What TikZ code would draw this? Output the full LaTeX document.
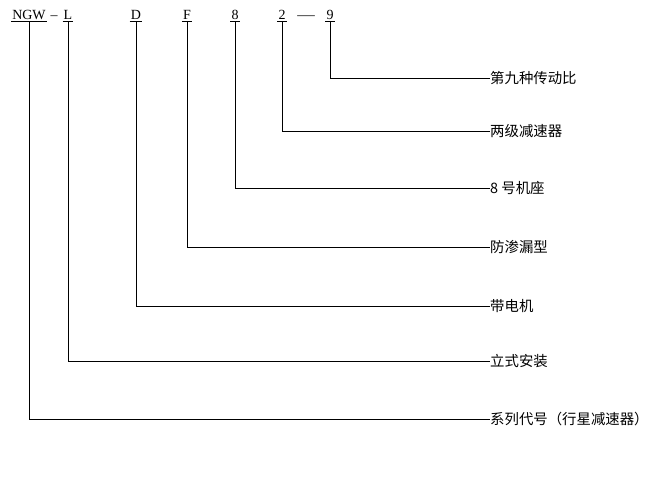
\documentclass[tikz,border=0pt]{standalone}
\usepackage{fontspec}
\setmainfont{Liberation Serif}
\newfontfamily\cjk{Noto Sans CJK SC}
\tikzset{code/.style={inner xsep=1pt,inner ysep=2pt,anchor=base,font=\fontsize{14}{14}\selectfont},
	sep/.style={inner sep=0pt,anchor=base,font=\fontsize{14}{14}\selectfont},
	desc/.style={inner sep=0pt,anchor=west,font=\cjk\fontsize{14.4}{14.4}\selectfont},
	link/.style={draw=black,line width=0.8pt}}

\begin{document}
\begin{tikzpicture}[x=1pt,y=-1pt]
		\useasboundingbox (0,0) rectangle (650,477);
			\node[code] (NGW) at (29,19) {NGW};
			\node[sep] (s1) at (54,19) {--};
			\node[code] (L) at (68,19) {L};
			\node[code] (D) at (136,19) {D};
			\node[code] (F) at (187,19) {F};
			\node[code] (N8) at (235,19) {8};
			\node[code] (N2) at (282,19) {2};
			\node[sep,xscale=1.25] (s2) at (306,19) {---};
			\node[code] (N9) at (330,19) {9};

			\node[desc] (t9) at (490,78) {第九种传动比};
			\node[desc] (t2) at (490,131) {两级减速器};
			\node[desc] (t8) at (490,188) {8 号机座};
			\node[desc] (tF) at (490,247) {防渗漏型};
			\node[desc] (tD) at (490,306) {带电机};
			\node[desc] (tL) at (490,361) {立式安装};
			\node[desc] (tNGW) at (490,419) {系列代号（行星减速器）};

		%	underlines
			\draw[link] (NGW.south west) -- (NGW.south east);
			\draw[link] (L.south west) -- (L.south east);
			\draw[link] (D.south west) -- (D.south east);
			\draw[link] (F.south west) -- (F.south east);
			\draw[link] (N8.south west) -- (N8.south east);
			\draw[link] (N2.south west) -- (N2.south east);
			\draw[link] (N9.south west) -- (N9.south east);

			\draw[link] (N9.south) |- (t9.west);
			\draw[link] (N2.south) |- (t2.west);
			\draw[link] (N8.south) |- (t8.west);
			\draw[link] (F.south) |- (tF.west);
			\draw[link] (D.south) |- (tD.west);
			\draw[link] (L.south) |- (tL.west);
			\draw[link] (NGW.south) |- (tNGW.west);
\end{tikzpicture}
\end{document}
